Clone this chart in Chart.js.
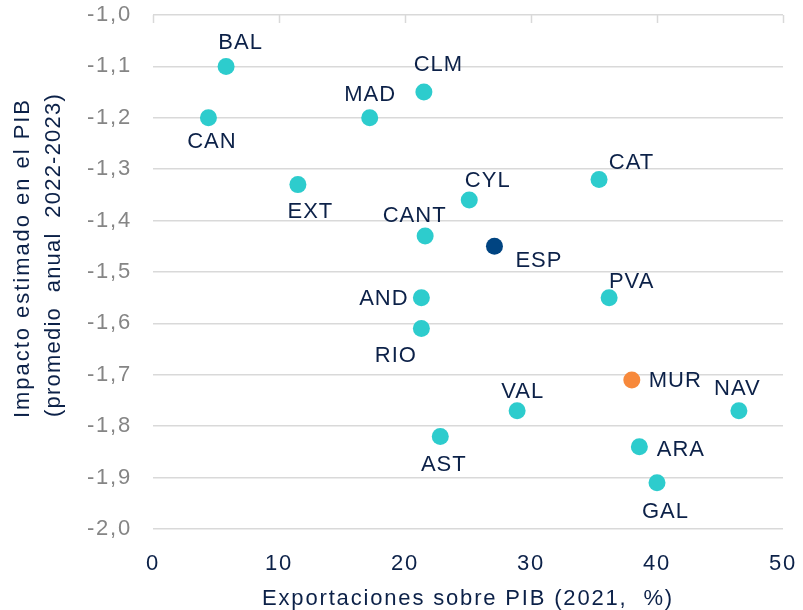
<!DOCTYPE html>
<html>
<head>
<meta charset="utf-8">
<script src="https://cdn.jsdelivr.net/npm/chart.js@4.4.1/dist/chart.umd.min.js"></script>
<style>
  html, body { margin: 0; padding: 0; background: #ffffff; }
  #wrap { width: 803px; height: 610px; position: relative; }
</style>
</head>
<body>
<div id="wrap"><canvas id="c" width="803" height="610"></canvas></div>
<script>
// ---- data ----
const regions = ['BAL','CAN','MAD','CLM','EXT','CAT','CYL','CANT','ESP','AND','PVA','RIO','MUR','VAL','NAV','AST','ARA','GAL'];
const exportsShare = [5.8, 4.4, 17.2, 21.5, 11.5, 35.4, 25.1, 21.6, 27.1, 21.3, 36.2, 21.3, 38.0, 28.9, 46.5, 22.8, 38.6, 40.0];
const gdpImpact = [-1.10, -1.20, -1.20, -1.15, -1.33, -1.32, -1.36, -1.43, -1.45, -1.55, -1.55, -1.61, -1.71, -1.77, -1.77, -1.82, -1.84, -1.91];
const xTickValues = [0, 10, 20, 30, 40, 50];
const yTickValues = [-2.0, -1.9, -1.8, -1.7, -1.6, -1.5, -1.4, -1.3, -1.2, -1.1, -1.0];
const xTitle = 'Exportaciones sobre PIB (2021,  %)';
const yTitle = ['Impacto estimado en el PIB', '(promedio  anual  2022-2023)'];

// ---- styles ----
const FONT = '"Liberation Sans", Arial, sans-serif';
const NAVY = '#0c2148';
const GRAY_TXT = '#858585';
const GRID = '#d9d9d9';
const TEAL = '#2dcccd';
const DARK = '#004481';
const ORANGE = '#f7893b';
function pointColor(r) { return r === 'ESP' ? DARK : (r === 'MUR' ? ORANGE : TEAL); }

// label placement relative to point centre (pixels)
const labelOffsets = {
  BAL: [14, -24], CAN: [3, 23], MAD: [0, -24], CLM: [14, -28], EXT: [12, 26],
  CAT: [32, -18], CYL: [18, -20], CANT: [-11, -21], ESP: [44, 14], AND: [-38, 0],
  PVA: [22, -17], RIO: [-26, 26], MUR: [43, 0], VAL: [5, -20], NAV: [-2, -23],
  AST: [3, 27], ARA: [41, 2], GAL: [8, 28]
};

const points = regions.map((r, i) => ({ x: exportsShare[i], y: gdpImpact[i] }));

function fitText(ctx, text, x, y, width) {
  ctx.letterSpacing = '0px';
  const w0 = ctx.measureText(text).width;
  const ls = (width - w0) / text.length;
  ctx.letterSpacing = ls + 'px';
  ctx.textAlign = 'left';
  ctx.fillText(text, x, y);
  ctx.letterSpacing = '0px';
}

function zeroPad(s) { s.paddingTop = 0; s.paddingBottom = 0; s.paddingLeft = 0; s.paddingRight = 0; }

const decorPlugin = {
  id: 'decor',
  beforeDraw(chart) {
    chart.ctx.letterSpacing = '1.8px';
  },
  afterDatasetsDraw(chart) {
    const ctx = chart.ctx;
    const area = chart.chartArea;
    const xs = chart.scales.x;
    ctx.save();
    ctx.letterSpacing = '0px';
    // top tick marks
    ctx.strokeStyle = GRID;
    ctx.lineWidth = 1.5;
    xTickValues.forEach(v => {
      const px = Math.round(xs.getPixelForValue(v)) + 0.5;
      ctx.beginPath();
      ctx.moveTo(px, area.top);
      ctx.lineTo(px, area.top + 8);
      ctx.stroke();
    });
    // point labels
    const meta = chart.getDatasetMeta(0);
    ctx.font = '22px ' + FONT;
    ctx.fillStyle = NAVY;
    ctx.textAlign = 'center';
    ctx.textBaseline = 'middle';
    ctx.letterSpacing = '1px';
    meta.data.forEach((el, i) => {
      const o = labelOffsets[regions[i]] || [0, -22];
      ctx.fillText(regions[i], el.x + o[0] + 0.5, el.y + o[1] + 1);
    });
    ctx.letterSpacing = '0px';
    // axis titles
    ctx.font = '22px ' + FONT;
    ctx.textBaseline = 'alphabetic';
    fitText(ctx, xTitle, 262, 605, 412);
    ctx.save();
    ctx.rotate(-Math.PI / 2);
    ctx.textBaseline = 'middle';
    fitText(ctx, yTitle[0], -418, 23, 320);
    fitText(ctx, yTitle[1], -417, 54, 324);
    ctx.restore();
    ctx.restore();
  },
  afterDraw(chart) {
    chart.ctx.letterSpacing = '0px';
  }
};

new Chart(document.getElementById('c'), {
  type: 'scatter',
  data: {
    datasets: [{
      data: points,
      backgroundColor: regions.map(pointColor),
      borderWidth: 0,
      pointRadius: 8.5,
      pointHoverRadius: 8.5
    }]
  },
  options: {
    responsive: false,
    animation: false,
    events: [],
    layout: { padding: { top: 15, right: 20, left: 0, bottom: 0 } },
    plugins: { legend: { display: false }, tooltip: { enabled: false } },
    scales: {
      x: {
        type: 'linear',
        min: 0, max: 50,
        afterBuildTicks(s) { s.ticks = xTickValues.map(v => ({ value: v })); },
        afterFit(s) { s.height = 81; zeroPad(s); },
        grid: { display: false, drawTicks: false },
        border: { display: false },
        ticks: {
          padding: 22,
          color: NAVY,
          font: { family: FONT, size: 22 },
          callback: v => String(v)
        }
      },
      y: {
        type: 'linear',
        min: -2.0, max: -1.0,
        afterBuildTicks(s) { s.ticks = yTickValues.map(v => ({ value: v })); },
        afterFit(s) { s.width = 153; zeroPad(s); },
        grid: { color: GRID, lineWidth: 1.5, drawTicks: false },
        border: { display: false },
        ticks: {
          padding: 21,
          color: GRAY_TXT,
          font: { family: FONT, size: 22 },
          callback: v => Number(v).toFixed(1).replace('.', ',')
        }
      }
    }
  },
  plugins: [decorPlugin]
});
</script>
</body>
</html>
